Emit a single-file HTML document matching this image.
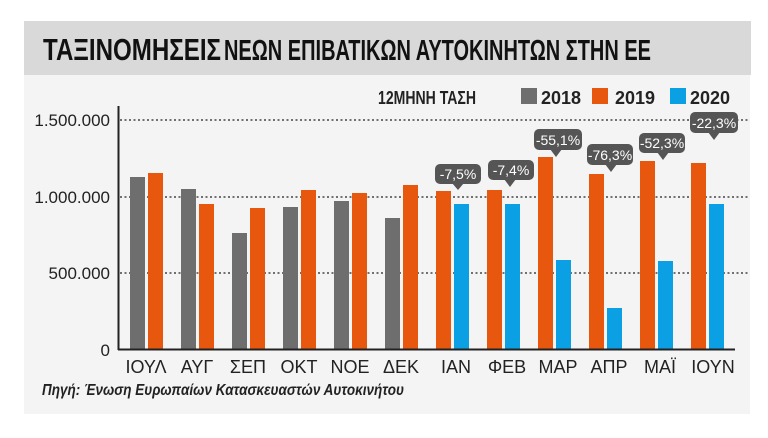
<!DOCTYPE html>
<html><head><meta charset="utf-8"><style>
html,body{margin:0;padding:0;background:#fff;}
svg{display:block;}
text{font-family:"Liberation Sans",sans-serif;}
</style></head><body>
<svg width="768" height="438" viewBox="0 0 768 438" xmlns="http://www.w3.org/2000/svg">
<rect x="24" y="21" width="727" height="54" fill="#d9d9d9"/>
<rect x="24" y="75" width="726" height="339" fill="#f4f4f4"/>
<text x="43" y="60" font-size="31" font-weight="bold" fill="#111" textLength="178" lengthAdjust="spacingAndGlyphs">ΤΑΞΙΝΟΜΗΣΕΙΣ</text>
<text x="224" y="60" font-size="29" font-weight="bold" fill="#111" textLength="427" lengthAdjust="spacingAndGlyphs">ΝΕΩΝ ΕΠΙΒΑΤΙΚΩΝ ΑΥΤΟΚΙΝΗΤΩΝ ΣΤΗΝ ΕΕ</text>
<text x="378" y="104" font-size="18" font-weight="bold" fill="#222" textLength="98" lengthAdjust="spacingAndGlyphs">12ΜΗΝΗ ΤΑΣΗ</text>
<rect x="521" y="88" width="16" height="16" fill="#6e6e6e"/><text x="541" y="104" font-size="18" font-weight="bold" fill="#222">2018</text>
<rect x="592" y="88" width="16" height="16" fill="#e8570e"/><text x="615" y="104" font-size="18" font-weight="bold" fill="#222">2019</text>
<rect x="670" y="88" width="16" height="16" fill="#0aa0e3"/><text x="690" y="104" font-size="18" font-weight="bold" fill="#222">2020</text>
<g stroke="#444" stroke-width="1.5" stroke-dasharray="2,2.5">
<line x1="120" y1="120" x2="748" y2="120"/><line x1="120" y1="197" x2="748" y2="197"/><line x1="120" y1="273" x2="748" y2="273"/></g>
<g font-size="17" fill="#222" text-anchor="end">
<text x="110" y="126">1.500.000</text><text x="110" y="203">1.000.000</text><text x="110" y="279">500.000</text><text x="110" y="356">0</text></g>
<g fill="#6e6e6e">
<rect x="130" y="177" width="15" height="172"/><rect x="181" y="189" width="15" height="160"/><rect x="232" y="233" width="15" height="116"/><rect x="283" y="207" width="15" height="142"/><rect x="334" y="201" width="15" height="148"/><rect x="385" y="218" width="15" height="131"/></g>
<g fill="#e8570e">
<rect x="148" y="173" width="15" height="176"/><rect x="199" y="204" width="15" height="145"/><rect x="250" y="208" width="15" height="141"/><rect x="301" y="190" width="15" height="159"/><rect x="352" y="193" width="15" height="156"/><rect x="403" y="185" width="15" height="164"/>
<rect x="436" y="191" width="15" height="158"/><rect x="487" y="190" width="15" height="159"/><rect x="538" y="157" width="15" height="192"/><rect x="589" y="174" width="15" height="175"/><rect x="640" y="161" width="15" height="188"/><rect x="691" y="163" width="15" height="186"/></g>
<g fill="#0aa0e3">
<rect x="454" y="204" width="15" height="145"/><rect x="505" y="204" width="15" height="145"/><rect x="556" y="260" width="15" height="89"/><rect x="607" y="308" width="15" height="41"/><rect x="658" y="261" width="15" height="88"/><rect x="709" y="204" width="15" height="145"/></g>
<line x1="118.5" y1="106" x2="118.5" y2="350" stroke="#222" stroke-width="2"/>
<line x1="118" y1="349.5" x2="735" y2="349.5" stroke="#222" stroke-width="2"/>
<g fill="#555">
<rect x="435" y="164" width="46" height="20" rx="5"/><path d="M452 183 L464 183 L458 190Z"/>
<rect x="488" y="160" width="46" height="20" rx="5"/><path d="M504 179 L516 179 L510 187Z"/>
<rect x="534" y="129" width="48" height="21" rx="5"/><path d="M550 149 L562 149 L556 157Z"/>
<rect x="587" y="144" width="46" height="21" rx="5"/><path d="M605 164 L617 164 L611 172Z"/>
<rect x="639" y="133" width="46" height="20" rx="5"/><path d="M657 152 L669 152 L663 160Z"/>
<rect x="690" y="112" width="48" height="21" rx="5"/><path d="M708 132 L720 132 L714 140Z"/></g>
<g fill="#fff" font-size="14" text-anchor="middle">
<text x="458" y="179">-7,5%</text><text x="511" y="175">-7,4%</text><text x="558" y="145">-55,1%</text><text x="610" y="160">-76,3%</text><text x="662" y="148">-52,3%</text><text x="714" y="128">-22,3%</text></g>
<g font-size="18" fill="#222" text-anchor="middle">
<text x="146" y="373">ΙΟΥΛ</text><text x="197" y="373">ΑΥΓ</text><text x="248" y="373">ΣΕΠ</text><text x="299" y="373">ΟΚΤ</text><text x="350" y="373">ΝΟΕ</text><text x="401" y="373">ΔΕΚ</text>
<text x="456" y="373">ΙΑΝ</text><text x="507" y="373">ΦΕΒ</text><text x="558" y="373">ΜΑΡ</text><text x="609" y="373">ΑΠΡ</text><text x="660" y="373">ΜΑΪ</text><text x="713" y="373">ΙΟΥΝ</text></g>
<text x="42" y="395" font-size="16" font-weight="bold" font-style="italic" fill="#222" textLength="362" lengthAdjust="spacingAndGlyphs">Πηγή: Ένωση Ευρωπαίων Κατασκευαστών Αυτοκινήτου</text>
</svg>
</body></html>
